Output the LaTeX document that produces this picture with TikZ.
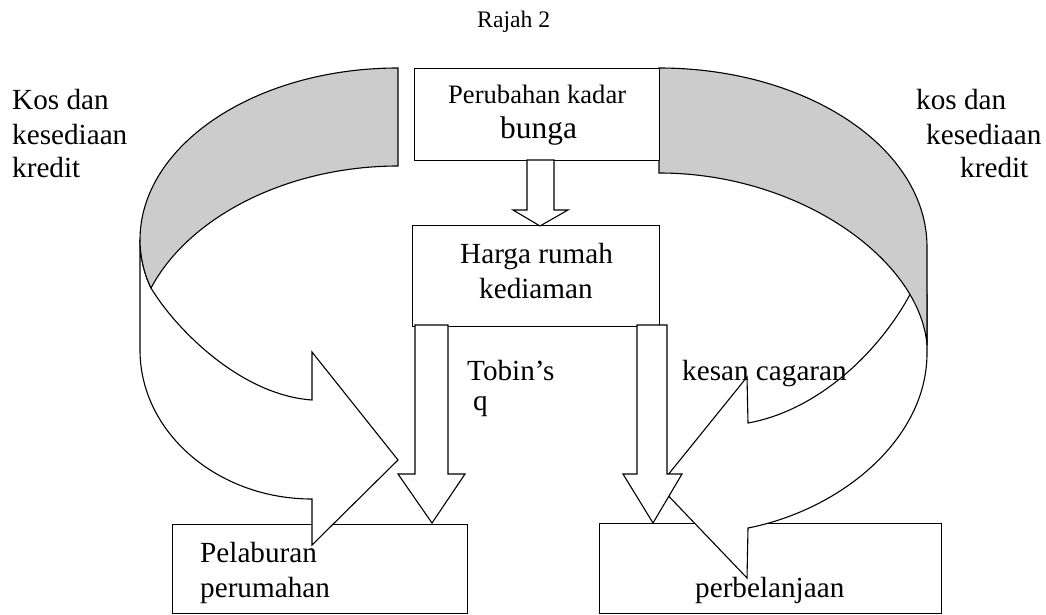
\documentclass[tikz,border=0pt]{standalone}
\usepackage{fontspec}
\setmainfont{Liberation Serif}
\begin{document}
\begin{tikzpicture}[x=1pt,y=-1pt,line join=miter,
  boxst/.style={draw,line width=1.1pt,fill=white,inner sep=0pt,anchor=north west},
  band/.style={fill=black!20,draw,line width=1.1pt},
  ribbon/.style={fill=white,draw,line width=1.1pt},
  blockarrow/.style={fill=white,draw,line width=1.1pt},
  lbl/.style={inner sep=0pt,anchor=base west,font=\fontsize{29.2}{33}\selectfont}]
\useasboundingbox (0,0) rectangle (1046,615);

% bottom boxes
\node[boxst,minimum width=295pt,minimum height=89pt] (inv) at (172,524) {};
\node[boxst,minimum width=342pt,minimum height=90pt] (spend) at (599,523) {};

% left curved arrow
\draw[ribbon] (140,240) -- (140,350) .. controls (140,432) and (217,499) .. (312,499)
  -- (312,545) -- (398,460) -- (312,352) -- (312,400)
  .. controls (240,395) and (175,328) .. (151,288)
  .. controls (145,276) and (140,258) .. (140,240) -- cycle;
\draw[band] (398,68) .. controls (255.6,68) and (140,145) .. (140,240)
  .. controls (140,258) and (145,276) .. (151,288)
  .. controls (190,215) and (290,166) .. (398,166) -- cycle;

% right curved arrow
\draw[ribbon] (910,294.5) .. controls (880,350) and (820,410) .. (748,423)
  -- (747,377) -- (659,486) -- (747,578) -- (748,528)
  .. controls (840,510) and (927,440) .. (927,353) -- (927,294.5) -- cycle;
\draw[band] (659,68) .. controls (807,68) and (927,148) .. (927,247) -- (927,345)
  .. controls (920,260) and (800,173) .. (659,173) -- cycle;

% top and middle boxes
\node[boxst,minimum width=245pt,minimum height=92pt] (rate) at (414,68) {};
\node[boxst,minimum width=247pt,minimum height=101pt] (price) at (412,225) {};

% block arrows
\draw[blockarrow] (527,160) -- (527,210) -- (513,210) -- (540,226) -- (568,210) -- (554,210) -- (554,160) -- cycle;
\draw[blockarrow] (415,325) -- (415,474) -- (398,474) -- (432,523) -- (465,474) -- (448,474) -- (448,325) -- cycle;
\draw[blockarrow] (637,325) -- (637,474) -- (623,474) -- (653,523) -- (682,474) -- (667,474) -- (667,325) -- cycle;

% texts
\node[lbl,font=\fontsize{23.7}{28}\selectfont] (title) at (477,28) {Rajah 2};
\node[lbl,font=\fontsize{26.6}{30}\selectfont] (t1a) at (448,104) {Perubahan kadar};
\node[lbl,font=\fontsize{31.4}{36}\selectfont] (t1b) at (500,139) {bunga};
\node[lbl] (t2a) at (460,263) {Harga rumah};
\node[lbl] (t2b) at (479,298) {kediaman};
\node[lbl] (tq1) at (467,380) {Tobin’s};
\node[lbl] (tq2) at (473,410) {q};
\node[lbl] (kc) at (682,380) {kesan cagaran};
\node[lbl] (p1) at (200,562) {Pelaburan};
\node[lbl] (p2) at (200,597) {perumahan};
\node[lbl] (pb) at (695,597) {perbelanjaan};
\node[lbl] (l1) at (12,110) {Kos dan};
\node[lbl] (l2) at (12,144) {kesediaan};
\node[lbl] (l3) at (12,177) {kredit};
\node[lbl] (r1) at (916,110) {kos dan};
\node[lbl] (r2) at (926,144) {kesediaan};
\node[lbl] (r3) at (960,177) {kredit};
\end{tikzpicture}
\end{document}
